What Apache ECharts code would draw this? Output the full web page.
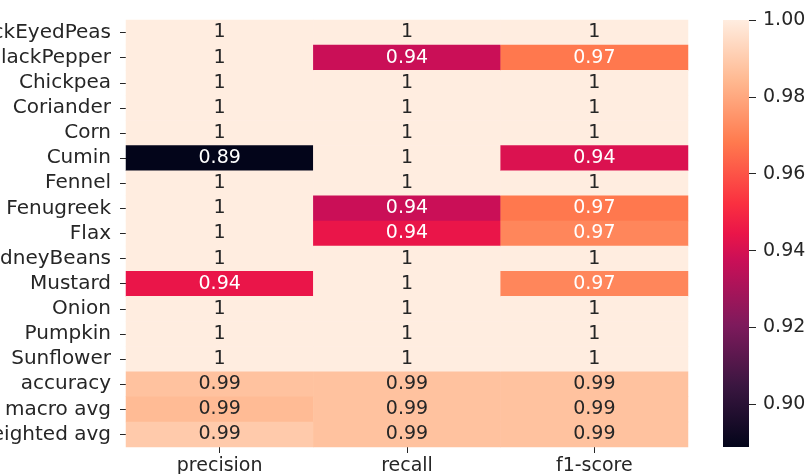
<!DOCTYPE html>
<html><head><meta charset="utf-8">
<script src="https://cdn.jsdelivr.net/npm/echarts@6/dist/echarts.min.js"></script>
<style>html,body{margin:0;padding:0;background:#fff}#c{width:810px;height:474px}</style>
</head><body><div id="c"></div>
<script>
const rows = ["BlackEyedPeas","BlackPepper","Chickpea","Coriander","Corn","Cumin","Fennel","Fenugreek","Flax","KidneyBeans","Mustard","Onion","Pumpkin","Sunflower","accuracy","macro avg","weighted avg"];
const cols = ["precision","recall","f1-score"];
const precision = [1,1,1,1,1,0.8889,1,1,1,1,0.9444,1,1,1,0.9871,0.9851,0.9895];
const recall    = [1,0.9375,1,1,1,1,1,0.9375,0.9444,1,1,1,1,1,0.9871,0.9871,0.9871];
const f1score   = [1,0.9677,1,1,1,0.9412,1,0.9677,0.9714,1,0.9714,1,1,1,0.9871,0.9871,0.9871];
const cbTicks = [0.90,0.92,0.94,0.96,0.98,1.00];
const vMin = 0.8889, vMax = 1.0;

// rocket-like colormap stops (position 0..1, colour)
const cmPos = [0,0.143,0.286,0.4375,0.5,0.571,0.714,0.857,1];
const cmCol = ["#03051A","#3A1640","#7E1A5C","#CA0F57","#EA1549","#FA3040","#FF7A4E","#FFB890","#FFEDE0"];
function hex2rgb(h){return [parseInt(h.slice(1,3),16),parseInt(h.slice(3,5),16),parseInt(h.slice(5,7),16)];}
function cmap(v){
  let t=(v-vMin)/(vMax-vMin); t=Math.max(0,Math.min(1,t));
  let i=0; while(i<cmPos.length-2 && t>cmPos[i+1]) i++;
  const f=(t-cmPos[i])/(cmPos[i+1]-cmPos[i]);
  const a=hex2rgb(cmCol[i]), b=hex2rgb(cmCol[i+1]);
  return a.map((x,k)=>Math.round(x+(b[k]-x)*f));
}
function lum(rgb){
  const l=rgb.map(c=>{c/=255;return c<=0.03928?c/12.92:Math.pow((c+0.055)/1.055,2.4);});
  return 0.2126*l[0]+0.7152*l[1]+0.0722*l[2];
}
const series=[precision,recall,f1score];
const data=[];
series.forEach((arr,ci)=>arr.forEach((v,ri)=>{
  const rgb=cmap(v);
  data.push({value:[ci,ri,v],itemStyle:{color:`rgb(${rgb.join(',')})`},
    label:{color: lum(rgb)>0.408?'#262626':'#ffffff'}});
}));
const font='DejaVu Sans';
const fs=19;
const chart=echarts.init(document.getElementById('c'),null,{renderer:'canvas'});
const gradStops=cmPos.map((p,i)=>({offset:1-p,color:cmCol[i]})).reverse();
chart.setOption({
  animation:false,
  textStyle:{fontFamily:font},
  grid:[{left:126,right:122,top:20,bottom:27,containLabel:false,outerBoundsMode:'none'},
        {left:723,width:26,top:20,bottom:27,containLabel:false,outerBoundsMode:'none'}],
  xAxis:[
    {type:'category',data:cols,gridIndex:0,axisLine:{show:false},splitLine:{show:false},
     axisTick:{show:true,alignWithLabel:true,length:6,lineStyle:{color:'#262626'}},
     axisLabel:{color:'#262626',fontSize:fs,margin:10,fontFamily:font,interval:0}},
    {type:'category',data:['cb'],gridIndex:1,show:false}
  ],
  yAxis:[
    {type:'category',data:rows,inverse:true,gridIndex:0,axisLine:{show:false},splitLine:{show:false},
     axisTick:{show:true,alignWithLabel:true,length:6,interval:0,lineStyle:{color:'#262626'}},
     axisLabel:{color:'#262626',fontSize:20,margin:15,fontFamily:font,interval:0,hideOverlap:false}},
    {type:'value',gridIndex:1,position:'right',min:vMin,max:vMax,
     axisLine:{show:false},splitLine:{show:false},
     axisTick:{show:true,length:7,lineStyle:{color:'#262626'},customValues:cbTicks},
     axisLabel:{color:'#262626',fontSize:fs,margin:14,fontFamily:font,customValues:cbTicks,
       formatter:v=>v.toFixed(2)}}
  ],
  series:[
    {type:'heatmap',xAxisIndex:0,yAxisIndex:0,data:data,
     label:{show:true,fontSize:fs,fontFamily:font,formatter:p=>String(Number(p.value[2].toPrecision(2)))},
     emphasis:{disabled:true}},
    {type:'bar',xAxisIndex:1,yAxisIndex:1,data:[vMax],barWidth:'100%',
     itemStyle:{color:new echarts.graphic.LinearGradient(0,0,0,1,gradStops)},silent:true}
  ]
});
</script></body></html>
